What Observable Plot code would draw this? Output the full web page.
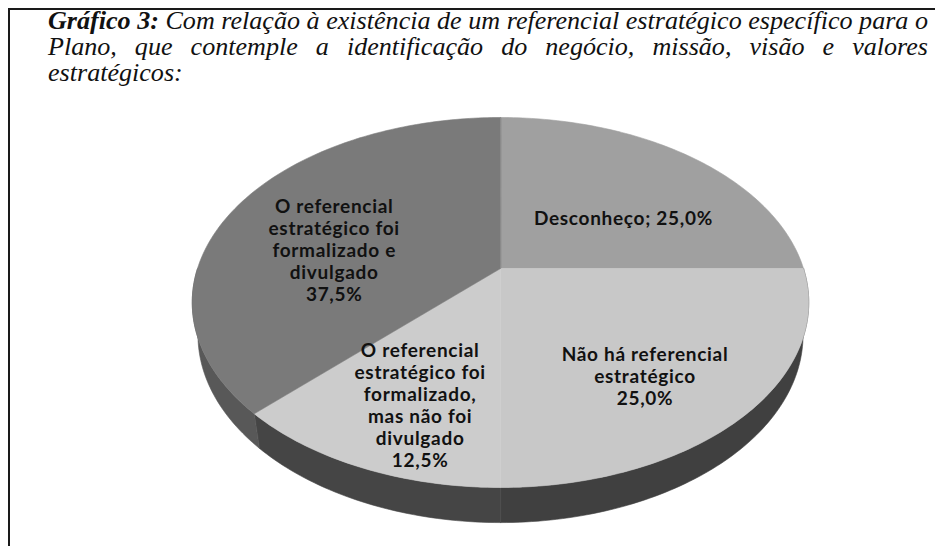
<!DOCTYPE html>
<html><head><meta charset="utf-8">
<script src="https://cdn.jsdelivr.net/npm/d3@7"></script>
<script src="https://cdn.jsdelivr.net/npm/@observablehq/plot@0.6"></script>
<style>
html,body{margin:0;padding:0;background:#fff;}
#page{position:relative;width:935px;height:546px;overflow:hidden;background:#fff;}
#chart{position:absolute;left:0;top:0;}
#frame{position:absolute;left:8px;top:8px;width:1000px;height:1000px;border-left:2px solid #1a1a1a;border-top:2px solid #1a1a1a;}
#title{position:absolute;left:48px;top:8px;font-family:"Liberation Serif","Times New Roman",Tinos,Times,serif;font-style:italic;font-size:25px;line-height:26px;color:#111;transform-origin:0 0;}
#title div{white-space:normal;}
.jl{text-align:justify;text-align-last:justify;}
#measure{position:absolute;visibility:hidden;white-space:nowrap;font-family:"Liberation Serif","Times New Roman",Tinos,Times,serif;font-style:italic;font-size:25px;}
</style></head>
<body>
<div id="page">
  <div id="chart"></div>
  <div id="frame"></div>
  <div id="title"></div>
  <span id="measure"></span>
</div>
<script>
// ---- data ----
const titleLines = [
  "<b>Gráfico 3:</b> Com relação à existência de um referencial estratégico específico para o",
  "Plano, que contemple a identificação do negócio, missão, visão e valores",
  "estratégicos:"
];
const categories = [
  "Desconheço",
  "Não há referencial estratégico",
  "O referencial estratégico foi formalizado, mas não foi divulgado",
  "O referencial estratégico foi formalizado e divulgado"
];
const shares = [25.0, 25.0, 12.5, 37.5];
const labelTexts = [
  "Desconheço; 25,0%",
  "Não há referencial\nestratégico\n25,0%",
  "O referencial\nestratégico foi\nformalizado,\nmas não foi\ndivulgado\n12,5%",
  "O referencial\nestratégico foi\nformalizado e\ndivulgado\n37,5%"
];
const topColors = ["#a0a0a0", "#c8c8c8", "#cccccc", "#7a7a7a"];
const sideColors = ["#626262", "#404040", "#454545", "#585858"];

// ---- title ----
const meas = document.getElementById("measure");
meas.innerHTML = titleLines[0];
const natural = meas.getBoundingClientRect().width + 0.5;
const s = 880 / natural;
const title = document.getElementById("title");
title.style.width = natural + "px";
title.style.transform = `scaleX(${s})`;
titleLines.forEach((t, i) => {
  const d = document.createElement("div");
  if (i < titleLines.length - 1) d.className = "jl";
  d.innerHTML = t;
  title.appendChild(d);
});

// ---- 3D perspective pie geometry ----
const CX = 500, CY = 268;
const R_TOP = 151, R_BOTTOM = 219, R_SIDE = 303, THICK = 0.136;
const k = (R_BOTTOM - R_TOP) / (R_BOTTOM + R_TOP);
const sinP = R_TOP * (1 + k) / R_SIDE, cosP = Math.sqrt(1 - sinP * sinP);
const D = cosP / k, F = R_SIDE * D;
function project(theta, r, Y) {
  const X = r * Math.sin(theta), Z = -r * Math.cos(theta);
  const depth = D - Z * cosP - Y * sinP;
  return {x: F * X / depth, y: F * (Z * sinP - Y * cosP) / depth};
}
const arcs = d3.pie().sort(null).value(d => d)(shares);
const deg = Math.PI / 180;
const topPts = [], sidePts = [];
arcs.forEach((a, i) => {
  const n = Math.max(2, Math.ceil((a.endAngle - a.startAngle) / deg));
  const pts = [project(0, 0, 0)];
  for (let j = 0; j <= n; j++) pts.push(project(a.startAngle + (a.endAngle - a.startAngle) * j / n, 1, 0));
  pts.forEach(p => topPts.push({...p, id: categories[i], fill: topColors[i]}));
  const s0 = Math.max(a.startAngle, Math.PI / 2), s1 = Math.min(a.endAngle, 3 * Math.PI / 2);
  if (s1 > s0) {
    const m = Math.max(2, Math.ceil((s1 - s0) / deg));
    const up = [], lo = [];
    for (let j = 0; j <= m; j++) {
      const t = s0 + (s1 - s0) * j / m;
      up.push(project(t, 1, 0));
      lo.push(project(t, 1, -THICK));
    }
    [...up, ...lo.reverse()].forEach(p => sidePts.push({...p, id: categories[i], fill: sideColors[i]}));
  }
});
const LABEL_R = 0.62;
const labelData = arcs.map((a, i) => ({...project((a.startAngle + a.endAngle) / 2, LABEL_R, 0), text: labelTexts[i]}));

const chart = Plot.plot({
  width: 935, height: 546, margin: 0,
  x: {domain: [-CX, 935 - CX], range: [0, 935], axis: null},
  y: {domain: [-CY, 546 - CY], range: [0, 546], axis: null},
  color: {type: "identity"},
  style: {background: "transparent", overflow: "visible", letterSpacing: "0.7px"},
  marks: [
    Plot.line(sidePts, {x: "x", y: "y", z: "id", fill: "fill", stroke: "fill", strokeWidth: 0.6, curve: "linear-closed"}),
    Plot.line(topPts, {x: "x", y: "y", z: "id", fill: "fill", stroke: "fill", strokeWidth: 0.6, curve: "linear-closed"}),
    Plot.text(labelData, {x: "x", y: "y", text: "text", dy: 22, fontSize: 19, fontWeight: "bold", fontFamily: "Lato", lineHeight: 1.16, fill: "#111"})
  ]
});
document.getElementById("chart").appendChild(chart);
</script>
</body></html>
